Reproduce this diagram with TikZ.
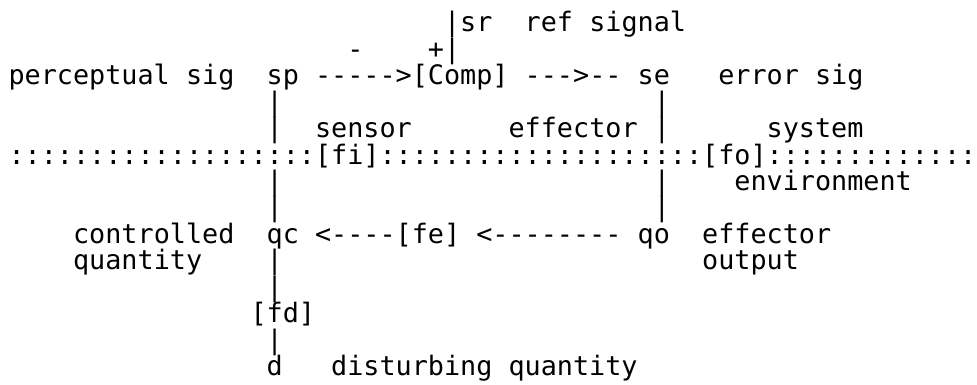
\documentclass[tikz,border=0pt]{standalone}
\usepackage{fontspec}
\setmonofont{DejaVu Sans Mono}
\usepackage{tikz}

\begin{document}
\begin{tikzpicture}[x=7.2246pt, y=-11.847pt,
    every node/.style={anchor=base west, inner sep=0pt, outer sep=0pt,
        font=\ttfamily\fontsize{12pt}{12pt}\selectfont}]
        \useasboundingbox (-0.533, -0.2023) rectangle (60.04, 14.353);

        % Reference input
        \node (srbar) at (27, 1) {|};
        \node (sr) at (28, 1) {sr};
        \node (reflbl) at (32, 1) {ref signal};
        \node (minus) at (21, 2) {-};
        \node (plus) at (26, 2) {+|};

        % Comparator row
        \node (perclbl) at (0, 3) {perceptual sig};
        \node (sp) at (16, 3) {sp};
        \node (sp-comp) at (19, 3) {----->};
        \node (comp) at (25, 3) {[Comp]};
        \node (comp-se) at (32, 3) {--->--};
        \node (se) at (39, 3) {se};
        \node (errlbl) at (44, 3) {error sig};

        % Labels above the boundary
        \node (sensorlbl) at (19, 5) {sensor};
        \node (effectorlbl) at (31, 5) {effector};
        \node (systemlbl) at (47, 5) {system};

        % System / environment boundary
        \node (bnd1) at (0, 6) {:::::::::::::::::::};
        \node (fi) at (19, 6) {[fi]};
        \node (bnd2) at (23, 6) {::::::::::::::::::::};
        \node (fo) at (43, 6) {[fo]};
        \node (bnd3) at (47, 6) {:::::::::::::};
        \node (envlbl) at (45, 7) {environment};

        % Environment row
        \node (ctrllbl) at (4, 9) {controlled};
        \node (qc) at (16, 9) {qc};
        \node (fe-qc) at (19, 9) {<----};
        \node (fe) at (24, 9) {[fe]};
        \node (qo-fe) at (29, 9) {<--------};
        \node (qo) at (39, 9) {qo};
        \node (outlbl) at (43, 9) {effector};
        \node (qtylbl) at (4, 10) {quantity};
        \node (outlbl2) at (43, 10) {output};

        % Disturbance
        \node (fd) at (15, 12) {[fd]};
        \node (d) at (16, 14) {d};
        \node (dlbl) at (20, 14) {disturbing quantity};

        % Vertical strokes
        \foreach \r in {4,5,7,8,10,11,13}
            \node (lbar\r) at (16, \r) {|};
        \foreach \r in {4,5,7,8}
            \node (rbar\r) at (40, \r) {|};
    \end{tikzpicture}
\end{document}
